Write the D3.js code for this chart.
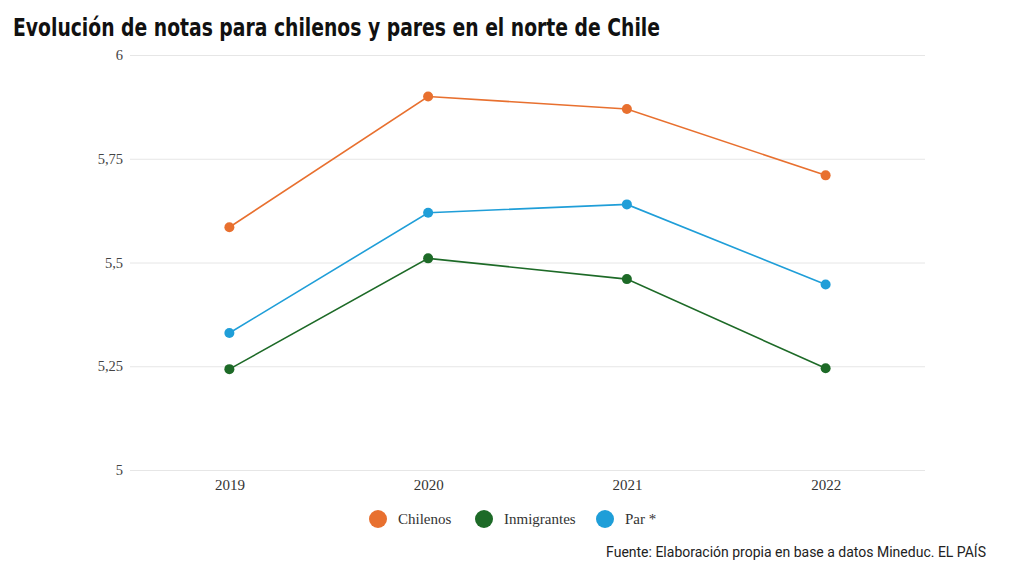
<!DOCTYPE html>
<html><head><meta charset="utf-8">
<script src="https://cdn.jsdelivr.net/npm/d3@7"></script>
<style>body{margin:0;background:#fff}svg{display:block}</style>
</head><body><svg id="c" width="1024" height="576"></svg>
<script>
const years = ["2019","2020","2021","2022"];
const chilenos = [5.585, 5.90, 5.87, 5.71];
const inmigrantes = [5.243, 5.51, 5.46, 5.245];
const par = [5.33, 5.62, 5.64, 5.447];
const seriesNames = ["Chilenos","Inmigrantes","Par *"];
const seriesColors = ["#e8702f","#1d6a27","#1f9ed8"];
const yTicks = [5, 5.25, 5.5, 5.75, 6];
const yTickLabels = ["5","5,25","5,5","5,75","6"];

const series = [chilenos, inmigrantes, par].map((v,i)=>({name:seriesNames[i], color:seriesColors[i], values:v}));
const svg = d3.select("#c");
const x = d3.scalePoint().domain(years).range([130,925]).padding(0.5);
const y = d3.scaleLinear().domain([5,6]).range([470,55]);

svg.append("text").attr("x",13).attr("y",36).text("Evolución de notas para chilenos y pares en el norte de Chile")
  .attr("textLength",647).attr("lengthAdjust","spacingAndGlyphs")
  .style("font-family","'Liberation Sans Narrow','DejaVu Sans Condensed',sans-serif").style("font-weight","bold").style("font-size","24px").attr("fill","#111");

const ya = svg.append("g").attr("transform","translate(130,0)")
  .call(d3.axisLeft(y).tickValues(yTicks).tickFormat((d,i)=>yTickLabels[i]).tickSize(-795).tickPadding(7));
ya.select(".domain").remove();
ya.selectAll("line").attr("stroke","#e6e6e6");
ya.selectAll("text").style("font-family","'Liberation Serif',serif").style("font-size","14.5px").attr("fill","#444");

const xa = svg.append("g").attr("transform","translate(0,470)")
  .call(d3.axisBottom(x).tickSize(0).tickPadding(9));
xa.select(".domain").remove();
xa.selectAll("text").style("font-family","'Liberation Serif',serif").style("font-size","15px").attr("fill","#333");

const line = d3.line().x((d,i)=>x(years[i])).y(d=>y(d));
series.forEach(s=>{
  svg.append("path").attr("d",line(s.values)).attr("fill","none").attr("stroke",s.color).attr("stroke-width",1.6);
  svg.selectAll(null).data(s.values).enter().append("circle")
    .attr("cx",(d,i)=>x(years[i])).attr("cy",d=>y(d)).attr("r",5).attr("fill",s.color);
});

const legX = [378, 484, 605];
const lg = svg.append("g");
series.forEach((s,i)=>{
  lg.append("circle").attr("cx",legX[i]).attr("cy",519).attr("r",9).attr("fill",s.color);
  lg.append("text").attr("x",legX[i]+20).attr("y",524).text(s.name)
    .style("font-family","'Liberation Serif',serif").style("font-size","15px").attr("fill","#333");
});

svg.append("text").attr("x",986).attr("y",557).attr("text-anchor","end")
  .text("Fuente: Elaboración propia en base a datos Mineduc. EL PAÍS")
  .style("font-family","Roboto,sans-serif").style("font-size","14px").attr("fill","#222");
</script></body></html>
